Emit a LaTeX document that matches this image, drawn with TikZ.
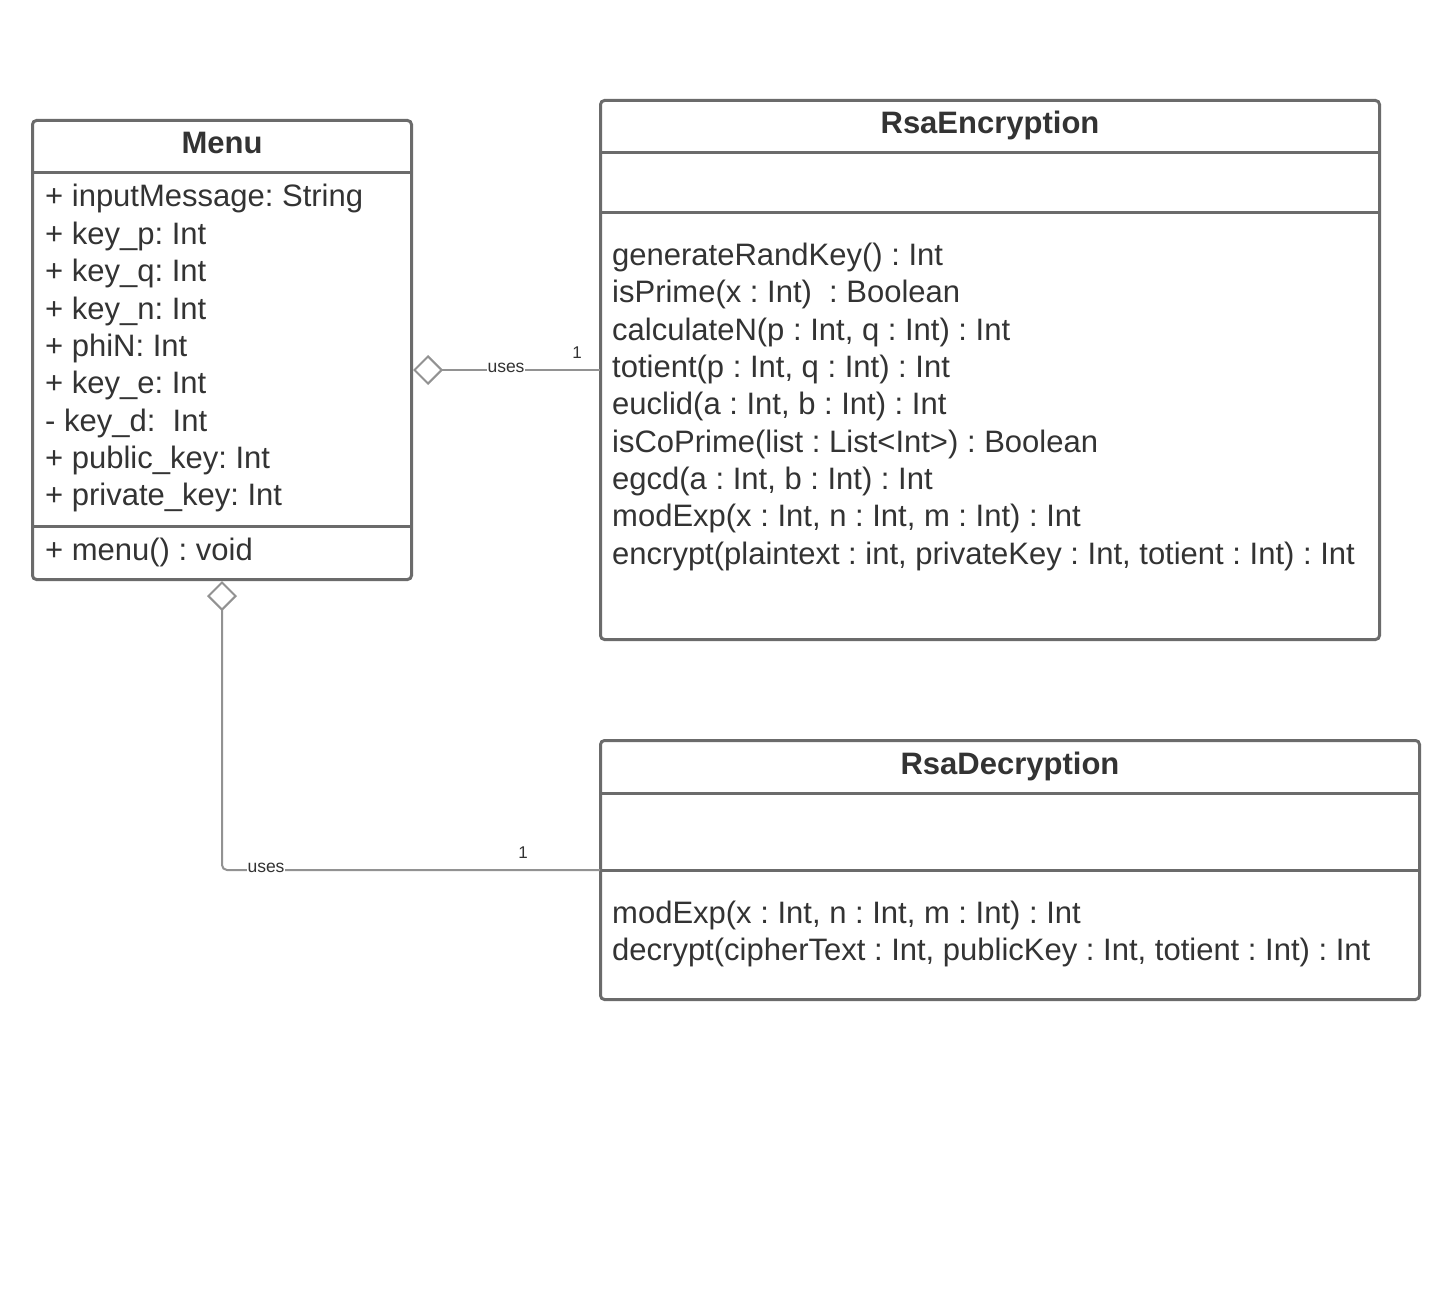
\documentclass[tikz,border=0pt]{standalone}
\usepackage{fontspec}
\setmainfont{Liberation Sans}
\usetikzlibrary{arrows.meta}
\definecolor{boxline}{HTML}{6B6B6B}
\definecolor{connline}{HTML}{929292}
\definecolor{ink}{HTML}{333333}
\frenchspacing
\begin{document}
\begin{tikzpicture}[x=1pt,y=-1pt,
  classbox/.style={draw=boxline, line width=3pt, rounded corners=4pt, minimum width=#1, anchor=north west, inner sep=0pt, outer sep=0pt},
  divider/.style={draw=boxline, line width=3pt},
  member/.style={anchor=base west, inner sep=0pt, text=ink, font=\fontsize{31}{33}\selectfont},
  title/.style={anchor=base, inner sep=0pt, text=ink, font=\fontsize{31}{33}\selectfont\bfseries},
  conn/.style={draw=connline, line width=2pt},
  agg/.style={conn, -{Diamond[open, length=30pt, width=30pt, line width=2pt, fill=white]}},
  rolelabel/.style={inner sep=1pt, fill=white, text=ink, font=\fontsize{17.5}{19}\selectfont},
  multlabel/.style={inner sep=0pt, text=ink, font=\fontsize{17}{19}\selectfont}]
\useasboundingbox (0,0) rectangle (1449,1303);

% Menu class
\node[classbox=379pt, minimum height=459pt] (menu) at (32.5,120.5) {};
\draw[divider] (32.5,173) -- (411.5,173);
\draw[divider] (32.5,526) -- (411.5,526);
\node[title] (menuT) at (222,154) {Menu};
\node[member] (m1) at (45,207) {+ inputMessage: String};
\node[member] (m2) at (45,244) {+ key\_p: Int};
\node[member] (m3) at (45,281) {+ key\_q: Int};
\node[member] (m4) at (45,319) {+ key\_n: Int};
\node[member] (m5) at (45,356) {+ phiN: Int};
\node[member] (m6) at (45,393) {+ key\_e: Int};
\node[member] (m7) at (45,431) {- key\_d:\ \ Int};
\node[member] (m8) at (45,468) {+ public\_key: Int};
\node[member] (m9) at (45,505) {+ private\_key: Int};
\node[member] (m10) at (45,560) {+ menu() : void};

% RsaEncryption class
\node[classbox=779pt, minimum height=539pt] (enc) at (600.5,100.5) {};
\draw[divider] (600.5,153) -- (1379.5,153);
\draw[divider] (600.5,212) -- (1379.5,212);
\node[title] (encT) at (990,134) {RsaEncryption};
\node[member] (e1) at (612,265) {generateRandKey() : Int};
\node[member] (e2) at (612,302) {isPrime(x : Int)\ \ : Boolean};
\node[member] (e3) at (612,340) {calculateN(p : Int, q : Int) : Int};
\node[member] (e4) at (612,377) {totient(p : Int, q : Int) : Int};
\node[member] (e5) at (612,414) {euclid(a : Int, b : Int) : Int};
\node[member] (e6) at (612,452) {isCoPrime(list : List<Int>) : Boolean};
\node[member] (e7) at (612,489) {egcd(a : Int, b : Int) : Int};
\node[member] (e8) at (612,526) {modExp(x : Int, n : Int, m : Int) : Int};
\node[member] (e9) at (612,564) {encrypt(plaintext : int, privateKey : Int, totient : Int) : Int};

% RsaDecryption class
\node[classbox=819pt, minimum height=259pt] (dec) at (600.5,740.5) {};
\draw[divider] (600.5,793) -- (1419.5,793);
\draw[divider] (600.5,870) -- (1419.5,870);
\node[title] (decT) at (1010,774) {RsaDecryption};
\node[member] (d1) at (612,923) {modExp(x : Int, n : Int, m : Int) : Int};
\node[member] (d2) at (612,960) {decrypt(cipherText : Int, publicKey : Int, totient : Int) : Int};

% Aggregations
\coordinate (encEnd) at (600,370);
\coordinate (menuR) at (413,370);
\draw[agg] (encEnd) -- (menuR);
\node[rolelabel] (u1) at (506,368) {uses};
\node[multlabel] (n1) at (577,353) {1};

\coordinate (decEnd) at (600,870);
\coordinate (menuB) at (222,581);
\draw[agg, rounded corners=5pt] (decEnd) -- (222,870) -- (menuB);
\node[rolelabel] (u2) at (266,868) {uses};
\node[multlabel] (n2) at (523,853) {1};
\end{tikzpicture}
\end{document}
